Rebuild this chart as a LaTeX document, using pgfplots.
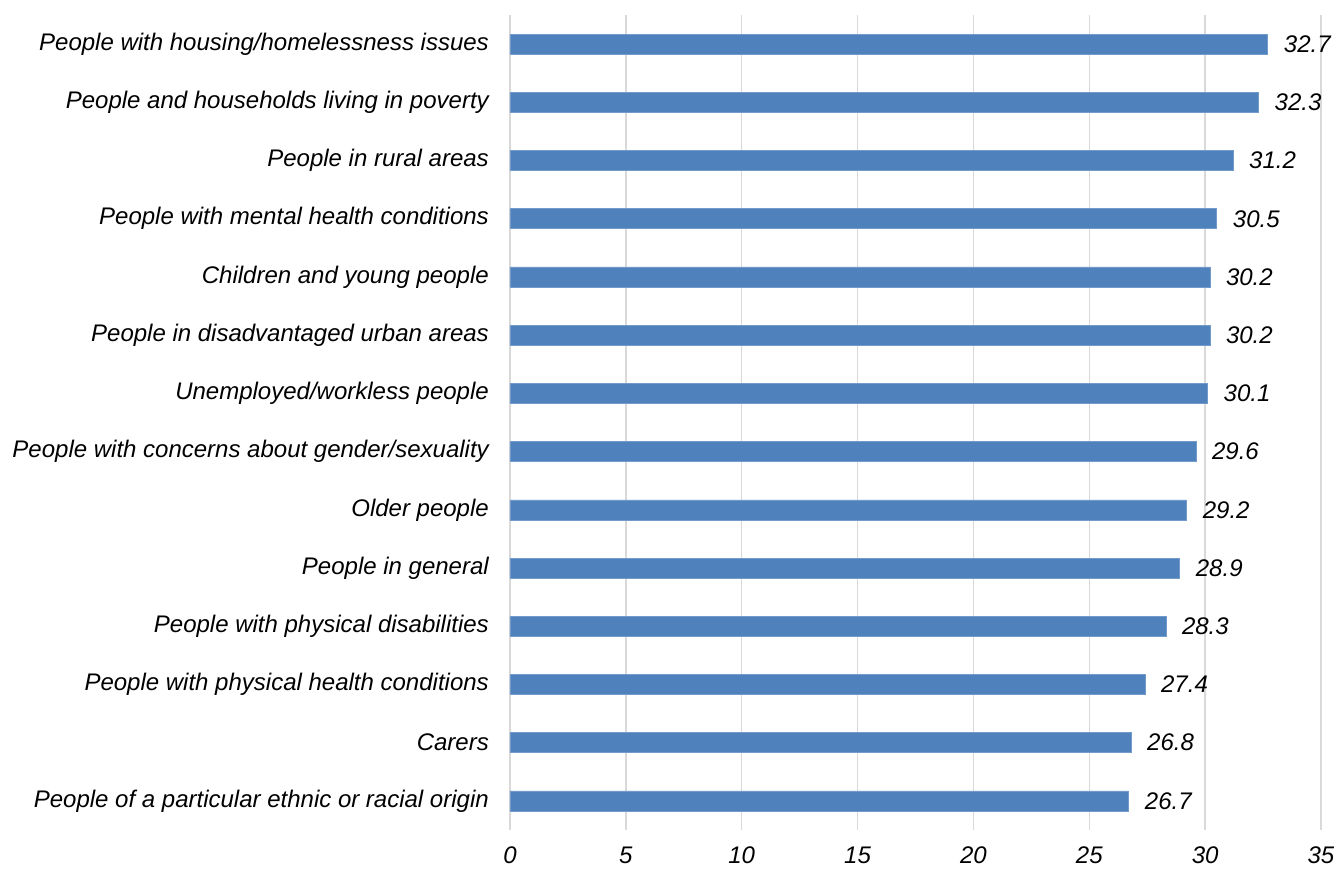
\documentclass[border=0pt]{standalone}
\usepackage{pgfplots}
\pgfplotsset{compat=1.18}
\usepackage{fontspec}
\setmainfont{Liberation Sans}
\definecolor{barblue}{HTML}{4F81BD}
\definecolor{gridgray}{HTML}{D9D9D9}
\newcommand{\chartfont}{\fontsize{24}{28}\selectfont\itshape}

\pgfplotstableread[col sep=comma]{
idx,value
0,26.7
1,26.8
2,27.4
3,28.3
4,28.9
5,29.2
6,29.6
7,30.1
8,30.2
9,30.2
10,30.5
11,31.2
12,32.3
13,32.7
}\groupdata

\begin{document}
\begin{tikzpicture}
\begin{axis}[
  name=ax,
  scale only axis,
  width=811pt, height=815pt,
  xbar, bar width=20pt,
  xmin=0, xmax=35, ymin=-0.5, ymax=13.5,
  xtick={0,5,...,35},
  ytick={0,...,13},
  yticklabels={
    People of a particular ethnic or racial origin,
    Carers,
    People with physical health conditions,
    People with physical disabilities,
    People in general,
    Older people,
    People with concerns about gender/sexuality,
    Unemployed/workless people,
    People in disadvantaged urban areas,
    Children and young people,
    People with mental health conditions,
    People in rural areas,
    People and households living in poverty,
    People with housing/homelessness issues},
  axis line style={draw=none},
  major tick length=0pt,
  xmajorgrids,
  grid style={gridgray, line width=1.5pt},
  /pgf/number format/assume math mode=true,
  ticklabel style={font=\chartfont, inner sep=0pt},
  yticklabel style={anchor=east, xshift=-21pt},
  xticklabel style={anchor=north, yshift=-17pt},
  nodes near coords,
  nodes near coords style={font=\chartfont, anchor=west, inner sep=0pt, xshift=16pt,
    /pgf/number format/.cd, fixed, fixed zerofill, precision=1},
]
\addplot[fill=barblue, draw=barblue!80!white, line width=0.5pt] table[x=value, y=idx] {\groupdata};
\end{axis}
\pgfresetboundingbox
\path[use as bounding box] ([xshift=-510pt,yshift=-38pt]ax.south west) rectangle ([xshift=17pt,yshift=15pt]ax.north east);
\end{tikzpicture}
\end{document}
